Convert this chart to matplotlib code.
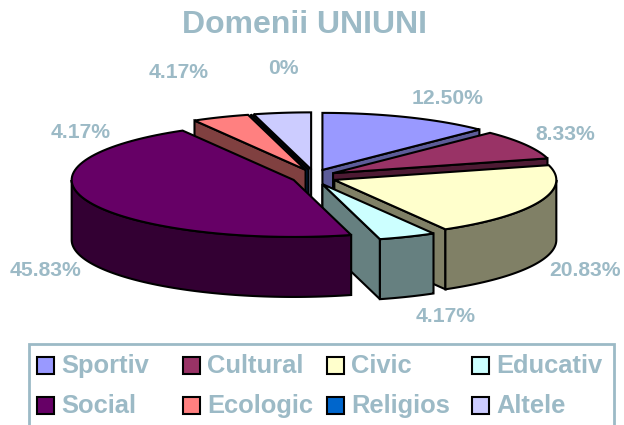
import numpy as np
import matplotlib
matplotlib.use('Agg')
import matplotlib.pyplot as plt
from matplotlib.patches import Polygon, Rectangle

plt.rcParams['font.family'] = ['Liberation Sans', 'DejaVu Sans']

categories = ['Sportiv', 'Cultural', 'Civic', 'Educativ', 'Social', 'Ecologic', 'Religios', 'Altele']
values = [12.50, 8.33, 20.83, 4.17, 45.83, 4.17, 0, 4.17]
labels = ['12.50%', '8.33%', '20.83%', '4.17%', '45.83%', '4.17%', '0%', '4.17%']
colors = ['#9999ff', '#993366', '#ffffcc', '#ccffff', '#660066', '#ff8080', '#0066cc', '#ccccff']
dark = ['#5c5c99', '#4d1a33', '#808066', '#668080', '#330033', '#804040', '#003366', '#666680']
label_pos = [(448, 98), (565, 134), (585, 270), (446, 317), (45, 271), (81, 133), (283, 68), (179, 72)]
# back to front
draw_order = [7, 6, 5, 0, 1, 2, 3, 4]

text_col = '#9cbac6'
cx, cy = 314, 177
rx, ry = 222, 57
depth = 60
off_x, off_y = 22, 7.7
line_w = 1.5

fig = plt.figure(figsize=(6.24, 4.25), dpi=100)
ax = fig.add_axes([0, 0, 1, 1])
ax.set_xlim(0, 624)
ax.set_ylim(425, 0)
ax.axis('off')

# work out the slices from the values
total = sum(values)
slices = {}
start = 0
for i, v in enumerate(values):
    a0 = start / total * 2 * np.pi
    a1 = (start + v) / total * 2 * np.pi
    start += v
    mid = (a0 + a1) / 2
    slices[i] = (a0, a1, cx + off_x * np.sin(mid), cy - off_y * np.cos(mid))


def pt(ox, oy, a):
    return ox + rx * np.sin(a), oy - ry * np.cos(a)


z = 2
for i in draw_order:
    a0, a1, ox, oy = slices[i]
    # cut faces, only the ones turned to the viewer
    for a, n in ((a0, a0 - np.pi / 2), (a1, a1 + np.pi / 2)):
        if np.cos(n) < 0:
            ex, ey = pt(ox, oy, a)
            face = [(ox, oy), (ex, ey), (ex, ey + depth), (ox, oy + depth)]
            ax.add_patch(Polygon(face, closed=True, fc=dark[i], ec='black', lw=line_w, zorder=z))
    # outer wall
    lo, hi = max(a0, np.pi / 2), min(a1, 3 * np.pi / 2)
    if hi > lo:
        t2 = np.linspace(lo, hi, 80)
        wx = ox + rx * np.sin(t2)
        wy = oy - ry * np.cos(t2)
        wall = np.column_stack([np.r_[wx, wx[::-1]], np.r_[wy, wy[::-1] + depth]])
        ax.add_patch(Polygon(wall, closed=True, fc=dark[i], ec='black', lw=line_w, zorder=z + 0.1))
    # top
    t = np.linspace(a0, a1, 80)
    top = np.column_stack([np.r_[ox, ox + rx * np.sin(t)], np.r_[oy, oy - ry * np.cos(t)]])
    ax.add_patch(Polygon(top, closed=True, fc=colors[i], ec='black', lw=line_w, zorder=z + 0.2))
    z += 1

ax.text(304.5, 25, 'Domenii UNIUNI', fontsize=23, fontweight='bold', color=text_col, ha='center', va='center')

for lab, (x, y) in zip(labels, label_pos):
    ax.text(x, y, lab, fontsize=15.2, fontweight='bold', color=text_col, ha='center', va='center', zorder=20)

# legend box
ax.add_patch(Rectangle((29, 344), 585, 90, fc='white', ec=text_col, lw=2, zorder=20, clip_on=True))
leg_x = [37, 183, 327, 472]
leg_y = [365, 405]
for k, name in enumerate(categories):
    x = leg_x[k % 4]
    y = leg_y[k // 4]
    ax.add_patch(Rectangle((x, y - 8.5), 17, 17, fc=colors[k], ec='black', lw=1.5, zorder=21))
    ax.text(x + 24.5, y + 8, name, fontsize=18.4, fontweight='bold', color=text_col, va='baseline', zorder=21)

fig.savefig('out.png', dpi=100)
